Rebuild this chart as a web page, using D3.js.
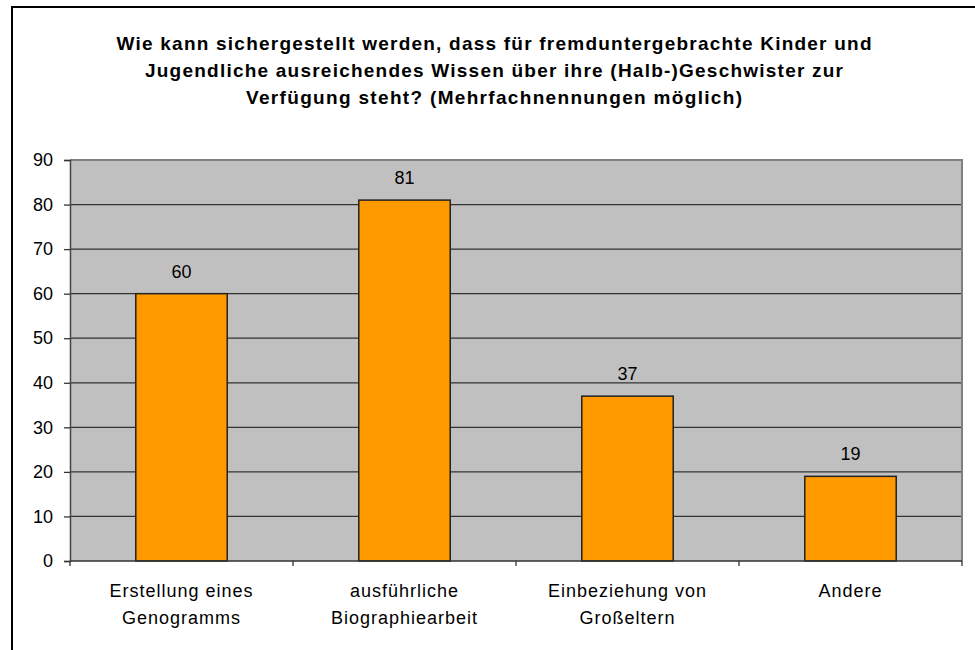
<!DOCTYPE html>
<html>
<head>
<meta charset="utf-8">
<script src="https://cdn.jsdelivr.net/npm/d3@7"></script>
<style>
  html, body { margin: 0; padding: 0; background: #fff; }
  svg { display: block; font-family: "Liberation Sans", Arial, sans-serif; }
</style>
</head>
<body>
<svg id="chart" width="975" height="650"></svg>
<script>
// chart data
const titleLines = [
  "Wie kann sichergestellt werden, dass für fremduntergebrachte Kinder und",
  "Jugendliche ausreichendes Wissen über ihre (Halb-)Geschwister zur",
  "Verfügung steht? (Mehrfachnennungen möglich)"
];
const titleWidths = [755, 698, 496];
const categories = [
  ["Erstellung eines", "Genogramms"],
  ["ausführliche", "Biographiearbeit"],
  ["Einbeziehung von", "Großeltern"],
  ["Andere"]
];
const values = [60, 81, 37, 19];
const yTicks = [0, 10, 20, 30, 40, 50, 60, 70, 80, 90];

const svg = d3.select("#chart");

// outer chart border (runs off the page right and bottom)
svg.append("rect")
  .attr("x", 12).attr("y", 7)
  .attr("width", 990).attr("height", 700)
  .attr("fill", "#fff")
  .attr("stroke", "#000")
  .attr("stroke-width", 2);

// title
svg.append("g")
  .selectAll("text")
  .data(titleLines)
  .join("text")
  .attr("x", 494)
  .attr("y", (d, i) => 50 + i * 27)
  .attr("text-anchor", "middle")
  .attr("font-size", 19)
  .attr("font-weight", "bold")
  .attr("fill", "#000")
  .attr("textLength", (d, i) => titleWidths[i])
  .attr("lengthAdjust", "spacing")
  .text(d => d);

const plot = { left: 70, right: 962, top: 160, bottom: 561 };

const x = d3.scaleBand()
  .domain(d3.range(values.length))
  .range([plot.left, plot.right])
  .paddingInner(0.59)
  .paddingOuter(0.295);

const xCat = d3.scaleBand()
  .domain(d3.range(values.length))
  .range([plot.left, plot.right]);

const y = d3.scaleLinear()
  .domain([0, 90])
  .range([plot.bottom, plot.top]);

// plot background
svg.append("rect")
  .attr("x", plot.left).attr("y", plot.top)
  .attr("width", plot.right - plot.left)
  .attr("height", plot.bottom - plot.top)
  .attr("fill", "#c0c0c0");

// gridlines
svg.append("g")
  .selectAll("line")
  .data(yTicks.filter(t => t > 0 && t < 90))
  .join("line")
  .attr("x1", plot.left).attr("x2", plot.right)
  .attr("y1", d => y(d)).attr("y2", d => y(d))
  .attr("stroke", "#333")
  .attr("stroke-width", 1.3);

// plot border top/right
svg.append("path")
  .attr("d", `M${plot.left},${plot.top}H${plot.right}V${plot.bottom}`)
  .attr("fill", "none")
  .attr("stroke", "#808080")
  .attr("stroke-width", 2);

// y axis
const yAxis = svg.append("g")
  .attr("transform", `translate(${plot.left},0)`)
  .call(d3.axisLeft(y).tickValues(yTicks).tickSize(6).tickPadding(11));
yAxis.select(".domain").attr("stroke", "#444").attr("stroke-width", 1.5);
yAxis.selectAll(".tick line").attr("stroke", "#333").attr("stroke-width", 1.3);
yAxis.selectAll(".tick text")
  .attr("font-size", 18)
  .attr("font-family", "Liberation Sans, Arial, sans-serif")
  .attr("fill", "#000");

// bars
svg.append("g")
  .selectAll("rect")
  .data(values)
  .join("rect")
  .attr("x", (d, i) => x(i))
  .attr("y", d => y(d))
  .attr("width", x.bandwidth())
  .attr("height", d => y(0) - y(d))
  .attr("fill", "#ff9900")
  .attr("stroke", "#222")
  .attr("stroke-width", 1.5);

// value labels
svg.append("g")
  .selectAll("text")
  .data(values)
  .join("text")
  .attr("x", (d, i) => x(i) + x.bandwidth() / 2)
  .attr("y", d => y(d) - 16)
  .attr("text-anchor", "middle")
  .attr("font-size", 18)
  .attr("fill", "#000")
  .text(d => d);

// x axis
const xAxis = svg.append("g")
  .attr("transform", `translate(0,${plot.bottom})`);
xAxis.append("line")
  .attr("x1", plot.left).attr("x2", plot.right)
  .attr("stroke", "#333").attr("stroke-width", 1.5);
xAxis.selectAll("line.tick")
  .data(d3.range(values.length + 1))
  .join("line")
  .attr("class", "tick")
  .attr("x1", d => plot.left + d * xCat.bandwidth())
  .attr("x2", d => plot.left + d * xCat.bandwidth())
  .attr("y1", 0).attr("y2", 5)
  .attr("stroke", "#333").attr("stroke-width", 1.3);

// category labels
const catLabels = svg.append("g")
  .selectAll("text")
  .data(categories)
  .join("text")
  .attr("x", (d, i) => xCat(i) + xCat.bandwidth() / 2)
  .attr("y", 597)
  .attr("text-anchor", "middle")
  .attr("font-size", 18)
  .attr("letter-spacing", 1)
  .attr("fill", "#000");
catLabels.selectAll("tspan")
  .data(d => d)
  .join("tspan")
  .attr("x", function () { return d3.select(this.parentNode).attr("x"); })
  .attr("dy", (d, i) => i === 0 ? 0 : 27)
  .text(d => d);
</script>
</body>
</html>
